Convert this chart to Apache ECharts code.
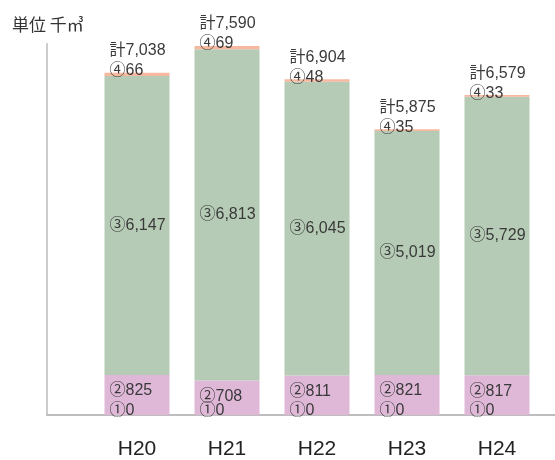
<!DOCTYPE html>
<html>
<head>
<meta charset="utf-8">
<script src="https://cdn.jsdelivr.net/npm/echarts@6/dist/echarts.min.js"></script>
<style>
  html, body { margin: 0; padding: 0; background: #fff; }
  #main { width: 555px; height: 460px; }
</style>
</head>
<body>
<div id="main"></div>
<script>
// 年度
const years = ['H20', 'H21', 'H22', 'H23', 'H24'];
// 各区分の値（千㎥）
const s1 = [0, 0, 0, 0, 0];
const s2 = [825, 708, 811, 821, 817];
const s3 = [6147, 6813, 6045, 5019, 5729];
const s4 = [66, 69, 48, 35, 33];
const totals = [7038, 7590, 6904, 5875, 6579];

const font = '"Liberation Sans", "Noto Sans CJK JP", sans-serif';
const fmt = v => v.toLocaleString('en-US');

function lbl(mark, position) {
    return {
        show: true,
        position: position,
        color: '#3a3a3a',
        fontSize: 16,
        fontFamily: font,
        formatter: p => mark + fmt(p.value)
    };
}

let myChart = echarts.init(document.getElementById('main'));

myChart.setOption({
    animation: false,
    title: {
        text: '単位 千㎥',
        left: 7,
        top: 11,
        textStyle: { fontSize: 17, fontWeight: 'normal', color: '#333', fontFamily: '"Noto Sans CJK JP", sans-serif' }
    },
    grid: [
        // 棒グラフ用
        { left: 92, right: 13, top: 26, bottom: 45 },
        // 軸線だけ
        { left: 47, right: 0, top: 44, bottom: 45 }
    ],
    xAxis: [
        {
            type: 'category',
            gridIndex: 0,
            data: years,
            axisLine: { show: false },
            axisTick: { show: false },
            axisLabel: { margin: 24, fontSize: 21, color: '#222', fontFamily: font }
        },
        {
            type: 'category',
            gridIndex: 1,
            data: [''],
            axisLine: { lineStyle: { color: '#bdbdbd', width: 2 } },
            axisTick: { show: false },
            axisLabel: { show: false }
        }
    ],
    yAxis: [
        {
            type: 'value',
            gridIndex: 0,
            min: 0,
            max: 8000,
            axisLine: { show: false },
            axisTick: { show: false },
            axisLabel: { show: false },
            splitLine: { show: false }
        },
        {
            type: 'value',
            gridIndex: 1,
            axisLine: { show: true, lineStyle: { color: '#cccccc', width: 2 } },
            axisTick: { show: false },
            axisLabel: { show: false },
            splitLine: { show: false }
        }
    ],
    series: [
        {
            name: '①', type: 'bar', stack: 'a', barWidth: 65,
            data: s1,
            itemStyle: { color: '#dfb8d8' },
            label: lbl('①', [5, -12])
        },
        {
            name: '②', type: 'bar', stack: 'a',
            data: s2,
            itemStyle: { color: '#dfb8d8' },
            label: lbl('②', [5, 8])
        },
        {
            name: '③', type: 'bar', stack: 'a',
            data: s3,
            itemStyle: { color: '#b5cbb5' },
            label: Object.assign(lbl('③', 'insideLeft'), { distance: 5 })
        },
        {
            name: '④', type: 'bar', stack: 'a',
            data: s4,
            itemStyle: { color: '#f6b9a0' },
            label: lbl('④', [5, -10])
        },
        {
            // 合計ラベル
            name: '計', type: 'bar', stack: 'a',
            data: totals.map(() => 0),
            itemStyle: { color: 'transparent' },
            label: {
                show: true,
                position: [5, -30],
                color: '#3a3a3a',
                fontSize: 16,
                fontFamily: font,
                formatter: p => '計' + fmt(totals[p.dataIndex])
            }
        }
    ]
});
</script>
</body>
</html>
